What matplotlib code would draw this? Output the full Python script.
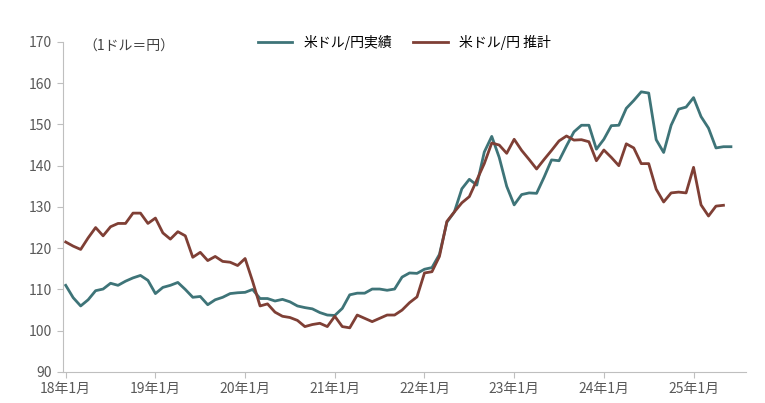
import matplotlib.pyplot as plt
import numpy as np

plt.rcParams['font.family'] = ['Noto Sans CJK JP', 'DejaVu Sans']

actual = [111, 108, 106, 107.5, 109.7, 110.1, 111.5, 111, 112, 112.8, 113.4, 112.2,
          109, 110.5, 111, 111.7, 110, 108.1, 108.3, 106.3, 107.5, 108.1, 109, 109.2,
          109.3, 110, 107.8, 107.8, 107.2, 107.6, 107, 106, 105.6, 105.3, 104.4, 103.8,
          103.7, 105.4, 108.7, 109.1, 109.1, 110.1, 110.1, 109.8, 110.1, 113, 114, 113.9,
          114.9, 115.3, 118.5, 126.3, 128.8, 134.4, 136.7, 135.3, 143.3, 147.1, 142, 135,
          130.5, 133, 133.4, 133.3, 137.2, 141.4, 141.2, 144.8, 148.2, 149.8, 149.8, 144,
          146.4, 149.7, 149.8, 153.9, 155.8, 157.9, 157.6, 146.3, 143.2, 149.8, 153.7, 154.2,
          156.5, 151.9, 149.1, 144.3, 144.6, 144.6]
estimate = [121.5, 120.5, 119.7, 122.5, 125, 123, 125.2, 126, 126, 128.5, 128.5, 126,
            127.3, 123.7, 122.2, 124, 123, 117.8, 119, 117, 118, 116.8, 116.6, 115.8,
            117.5, 112, 106, 106.5, 104.5, 103.5, 103.2, 102.5, 101, 101.5, 101.8, 101,
            103.5, 101, 100.7, 103.8, 103, 102.2, 103, 103.8, 103.8, 105, 106.8, 108.2,
            114, 114.3, 118, 126.5, 128.8, 131, 132.5, 136.5, 140.5, 145.5, 145, 143,
            146.4, 143.7, 141.5, 139.2, 141.5, 143.7, 146, 147.2, 146.2, 146.3, 145.8, 141.2,
            143.8, 142, 140, 145.3, 144.3, 140.5, 140.5, 134.3, 131.2, 133.4, 133.6, 133.4,
            139.6, 130.5, 127.8, 130.2, 130.4]
tick_labels = ['18年1月', '19年1月', '20年1月', '21年1月', '22年1月', '23年1月', '24年1月', '25年1月']

fig = plt.figure(figsize=(7.65, 4.03), dpi=100)
ax = fig.add_axes([0.082, 0.077, 0.893, 0.819])

ax.plot(np.arange(len(actual)), actual, color='#3E7478', lw=2, label='米ドル/円実績')
ax.plot(np.arange(len(estimate)), estimate, color='#7F3F35', lw=2, label='米ドル/円 推計')

ax.set_ylim(90, 170)
ax.set_yticks(range(90, 171, 10))
ax.set_xlim(-0.4, 91)
ax.set_xticks(np.arange(len(tick_labels)) * 12)
ax.set_xticklabels(tick_labels)
for s in ['top', 'right']:
    ax.spines[s].set_visible(False)
for s in ['left', 'bottom']:
    ax.spines[s].set_color('#BFBFBF')
ax.tick_params(colors='#595959', labelsize=10, length=4)
ax.tick_params(axis='x', colors='#BFBFBF', labelcolor='#595959')
ax.tick_params(axis='y', colors='#BFBFBF', labelcolor='#595959')

ax.text(0.03, 0.985, '（1ドル＝円）', transform=ax.transAxes, fontsize=10,
        color='#404040', va='center')
ax.legend(loc='upper center', bbox_to_anchor=(0.5, 1.06), ncol=2, frameon=False,
          fontsize=10, handlelength=2.5, columnspacing=1.5)

fig.savefig('out.png')
